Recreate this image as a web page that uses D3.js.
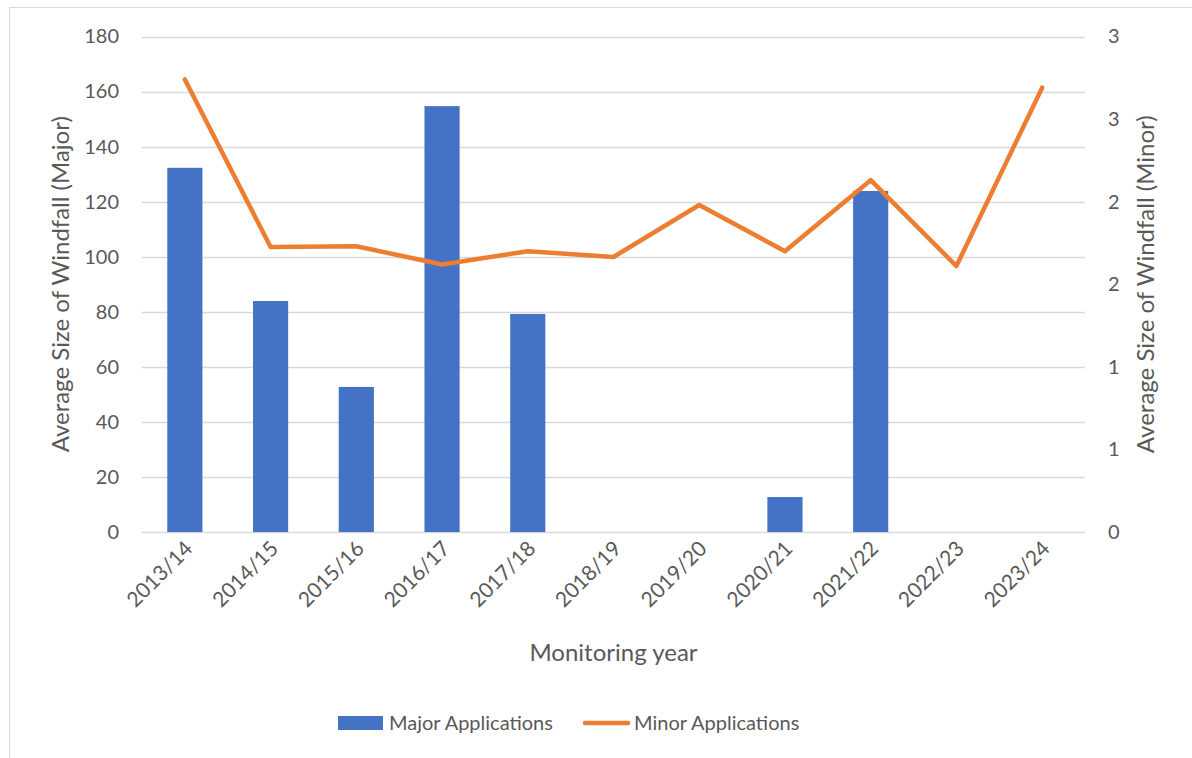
<!DOCTYPE html>
<html>
<head>
<meta charset="utf-8">
<script src="https://cdn.jsdelivr.net/npm/d3@7"></script>
<style>
  body { margin: 0; background: #fff; }
  svg text { font-family: Lato, "Noto Sans", sans-serif; fill: #595959; }
</style>
</head>
<body>
<div id="chart"></div>
<script>
// Chart size
const width = 1192;
const height = 758;

// Data
const years = ["2013/14", "2014/15", "2015/16", "2016/17", "2017/18", "2018/19",
               "2019/20", "2020/21", "2021/22", "2022/23", "2023/24"];
const majorValues = [132.3, 83.9, 52.7, 154.7, 79.2, null, null, 12.7, 123.9, null, null];
const minorValues = [2.74, 1.725, 1.73, 1.62, 1.70, 1.665, 1.98, 1.70, 2.13, 1.61, 2.69];
const leftTicks = [0, 20, 40, 60, 80, 100, 120, 140, 160, 180];
const rightTicks = [0, 0.5, 1, 1.5, 2, 2.5, 3];
const rightTickLabels = ["0", "1", "1", "2", "2", "3", "3"];

const plot = { left: 142, right: 1085, top: 36.5, bottom: 532 };

const svg = d3.select("#chart").append("svg")
    .attr("width", width)
    .attr("height", height);

// outer chart border
svg.append("rect")
    .attr("x", 9.5).attr("y", 7.5)
    .attr("width", 1250).attr("height", 800)
    .attr("fill", "none")
    .attr("stroke", "#d9d9d9");

const x = d3.scaleBand()
    .domain(years)
    .range([plot.left, plot.right])
    .paddingInner(0.59)
    .paddingOuter(0.295);

const xCenter = d3.scaleBand()
    .domain(years)
    .range([plot.left, plot.right]);

const yLeft = d3.scaleLinear().domain([0, 180]).range([plot.bottom, plot.top]);
const yRight = d3.scaleLinear().domain([0, 3]).range([plot.bottom, plot.top]);

// gridlines
svg.append("g")
    .selectAll("line")
    .data(leftTicks)
    .enter()
    .append("line")
    .attr("x1", plot.left)
    .attr("x2", plot.right)
    .attr("y1", d => Math.round(yLeft(d)) + 0.5)
    .attr("y2", d => Math.round(yLeft(d)) + 0.5)
    .attr("stroke", "#d9d9d9")
    .attr("stroke-width", 1.3);

// left axis
const leftAxis = svg.append("g")
    .attr("transform", `translate(${plot.left},0)`)
    .call(d3.axisLeft(yLeft).tickValues(leftTicks).tickSize(0).tickPadding(23));
leftAxis.select(".domain").remove();
leftAxis.selectAll("text").style("font-size", "20px").attr("fill", "#595959");

// right axis
const rightAxis = svg.append("g")
    .attr("transform", `translate(${plot.right},0)`)
    .call(d3.axisRight(yRight).tickValues(rightTicks).tickSize(0).tickPadding(23)
        .tickFormat((d, i) => rightTickLabels[i]));
rightAxis.select(".domain").remove();
rightAxis.selectAll("text").style("font-size", "20px").attr("fill", "#595959");

// x axis labels
const xAxis = svg.append("g")
    .attr("transform", `translate(0,${plot.bottom})`)
    .call(d3.axisBottom(xCenter).tickSize(0).tickPadding(0));
xAxis.select(".domain").remove();
xAxis.selectAll("text")
    .style("font-size", "21px")
    .attr("fill", "#595959")
    .attr("text-anchor", "end")
    .attr("dy", null)
    .attr("y", 0)
    .attr("transform", "translate(9,18) rotate(-45)");

// bars
svg.append("g")
    .selectAll("rect")
    .data(years.map((y, i) => ({ year: y, value: majorValues[i] })).filter(d => d.value != null))
    .enter()
    .append("rect")
    .attr("x", d => x(d.year))
    .attr("y", d => yLeft(d.value))
    .attr("width", x.bandwidth())
    .attr("height", d => yLeft(0) - yLeft(d.value))
    .attr("fill", "#4472C4");

// minor line
const line = d3.line()
    .x((d, i) => xCenter(years[i]) + xCenter.bandwidth() / 2)
    .y(d => yRight(d));

svg.append("path")
    .datum(minorValues)
    .attr("d", line)
    .attr("fill", "none")
    .attr("stroke", "#ED7D31")
    .attr("stroke-width", 4.5)
    .attr("stroke-linejoin", "round")
    .attr("stroke-linecap", "round");

// axis titles
svg.append("text")
    .attr("transform", `translate(63,${(plot.top + plot.bottom) / 2}) rotate(-90)`)
    .attr("text-anchor", "middle")
    .attr("dominant-baseline", "middle")
    .style("font-size", "24px")
    .text("Average Size of Windfall (Major)");

svg.append("text")
    .attr("transform", `translate(1148,${(plot.top + plot.bottom) / 2}) rotate(-90)`)
    .attr("text-anchor", "middle")
    .attr("dominant-baseline", "middle")
    .style("font-size", "24px")
    .text("Average Size of Windfall (Minor)");

svg.append("text")
    .attr("x", (plot.left + plot.right) / 2)
    .attr("y", 661)
    .attr("text-anchor", "middle")
    .style("font-size", "24px")
    .text("Monitoring year");

// legend
const legend = svg.append("g");
legend.append("rect")
    .attr("x", 338).attr("y", 716)
    .attr("width", 45).attr("height", 14)
    .attr("fill", "#4472C4");
legend.append("text")
    .attr("x", 389).attr("y", 730)
    .style("font-size", "20px")
    .text("Major Applications");
legend.append("line")
    .attr("x1", 585).attr("x2", 628)
    .attr("y1", 723).attr("y2", 723)
    .attr("stroke", "#ED7D31")
    .attr("stroke-width", 4.5)
    .attr("stroke-linecap", "round");
legend.append("text")
    .attr("x", 634).attr("y", 730)
    .style("font-size", "20px")
    .text("Minor Applications");
</script>
</body>
</html>
